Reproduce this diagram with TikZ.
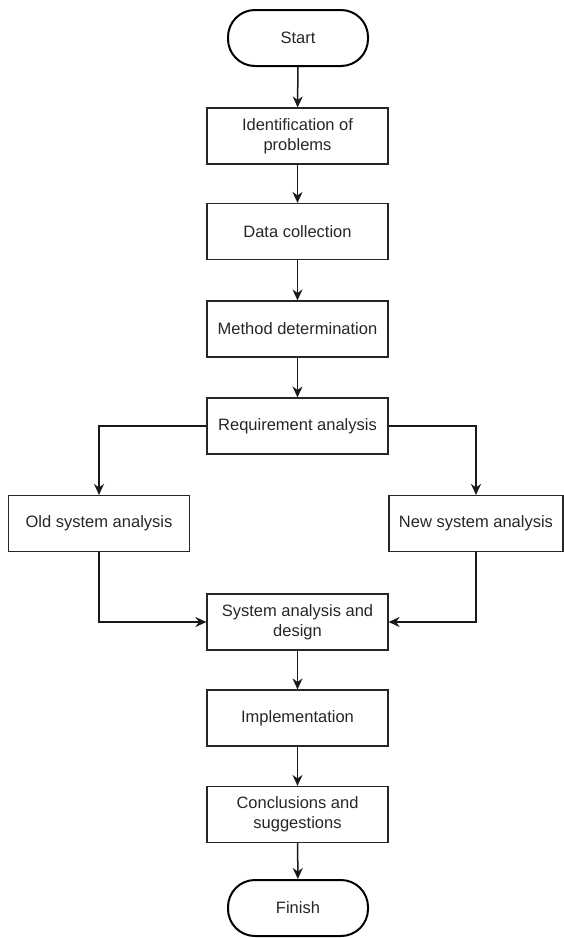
\documentclass[tikz,border=0pt]{standalone}
\usepackage{fontspec}
\setmainfont{Liberation Sans}
\usetikzlibrary{arrows.meta}
\begin{document}
\begin{tikzpicture}[x=1pt,y=-1pt,
  box/.style={draw=black!85, line width=1.2pt, minimum width=181pt, minimum height=56pt, align=center, inner sep=2pt, font=\fontsize{16.5}{20}\selectfont, text=black!85},
  term/.style={draw=black, line width=2pt, minimum width=140pt, minimum height=56pt, rounded corners=27pt, align=center, font=\fontsize{16.5}{20}\selectfont, text=black!85},
  conn/.style={draw=black!90, line width=1.5pt, -{Stealth[length=11pt,width=10pt]}}]
\useasboundingbox (0,0) rectangle (564,938);
\node[term] (start) at (298,38) {Start};
\node[box] (ident) at (297.5,136) {Identification of\\problems};
\node[box] (data) at (297.5,231.5) {Data collection};
\node[box] (method) at (297.5,329) {Method determination};
\node[box] (req) at (297.5,426) {Requirement analysis};
\node[box] (old) at (99,523.5) {Old system analysis};
\node[box, minimum width=174pt] (new) at (476,523.5) {New system analysis};
\node[box] (sys) at (297.5,622) {System analysis and\\design};
\node[box] (impl) at (297.5,718) {Implementation};
\node[box] (concl) at (297.5,814.5) {Conclusions and\\suggestions};
\node[term] (finish) at (298,908) {Finish};
\draw[conn] (start) -- (ident);
\draw[conn] (ident) -- (data);
\draw[conn] (data) -- (method);
\draw[conn] (method) -- (req);
\draw[conn] (req.west) -| (old.north);
\draw[conn] (req.east) -| (new.north);
\draw[conn] (old.south) |- (sys.west);
\draw[conn] (new.south) |- (sys.east);
\draw[conn] (sys) -- (impl);
\draw[conn] (impl) -- (concl);
\draw[conn] (concl) -- (finish);
\end{tikzpicture}
\end{document}
